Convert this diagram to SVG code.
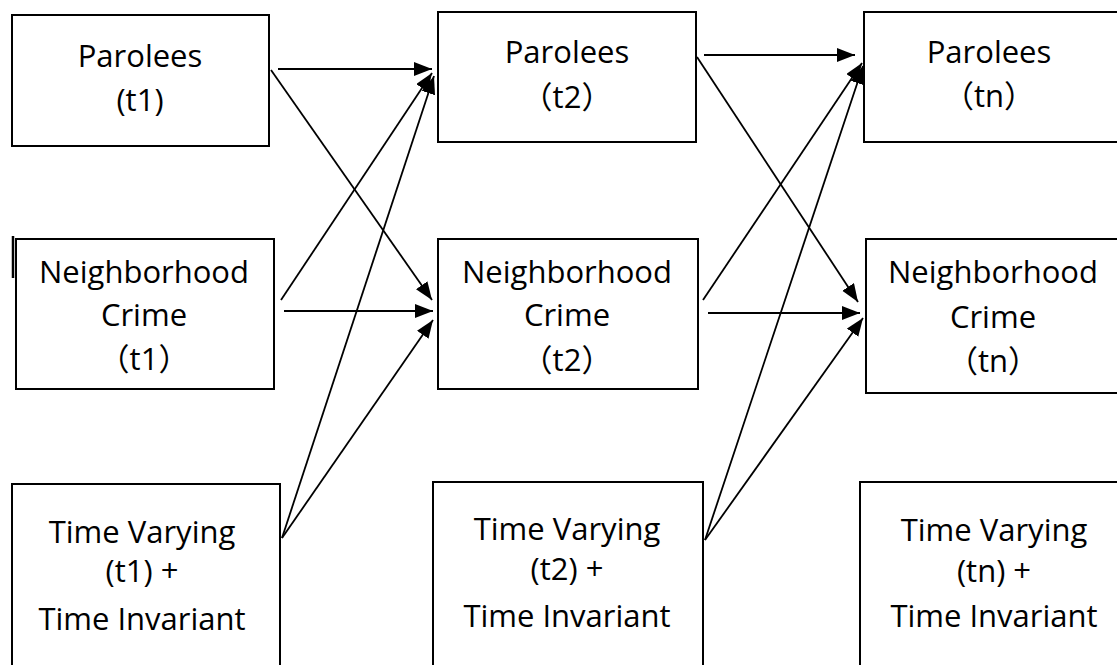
<svg xmlns="http://www.w3.org/2000/svg" width="1117" height="665" viewBox="0 0 1117 665">
<defs>
<marker id="ah" markerUnits="userSpaceOnUse" markerWidth="19" markerHeight="15" refX="18" refY="7" orient="auto">
<path d="M0,0 L18,7 L0,14 z" fill="#000"/>
</marker>
<style>
.box{fill:#fff;stroke:#000;stroke-width:2}
.t{font-family:"Open Sans","Noto Sans","Noto Sans CJK SC",sans-serif;font-size:31px;fill:#000;text-anchor:middle}
.c{stroke:#000;stroke-width:1.8;fill:none;marker-end:url(#ah)}
</style>
</defs>
<rect width="1117" height="665" fill="#fff"/>
<g id="p1"><rect class="box" x="12" y="15" width="257" height="131"/><text class="t" x="140" y="67">Parolees</text><text class="t" x="140" y="111">(t1)</text></g>
<g id="p2"><rect class="box" x="438" y="12" width="258" height="130"/><text class="t" x="567" y="63">Parolees</text><text class="t" x="567" y="108">（t2）</text></g>
<g id="pn"><rect class="box" x="864" y="12" width="270" height="130"/><text class="t" x="989" y="63">Parolees</text><text class="t" x="989" y="107">（tn）</text></g>
<g id="n1"><rect class="box" x="16" y="239" width="258" height="150"/><text class="t" x="144" y="283">Neighborhood</text><text class="t" x="144" y="326">Crime</text><text class="t" x="144" y="370">（t1）</text></g>
<g id="n2"><rect class="box" x="438" y="239" width="260" height="150"/><text class="t" x="567" y="283">Neighborhood</text><text class="t" x="567" y="326">Crime</text><text class="t" x="567" y="371">（t2）</text></g>
<g id="nn"><rect class="box" x="866" y="239" width="270" height="154"/><text class="t" x="993" y="283">Neighborhood</text><text class="t" x="993" y="328">Crime</text><text class="t" x="993" y="372">（tn）</text></g>
<g id="v1"><rect class="box" x="12" y="484" width="268" height="200"/><text class="t" x="142" y="543">Time Varying</text><text class="t" x="142" y="582">(t1) +</text><text class="t" x="142" y="630">Time Invariant</text></g>
<g id="v2"><rect class="box" x="433" y="482" width="270" height="200"/><text class="t" x="567" y="540">Time Varying</text><text class="t" x="567" y="580">(t2) +</text><text class="t" x="567" y="627">Time Invariant</text></g>
<g id="vn"><rect class="box" x="860" y="482" width="270" height="200"/><text class="t" x="994" y="541">Time Varying</text><text class="t" x="994" y="582">(tn) +</text><text class="t" x="994" y="627">Time Invariant</text></g>
<line x1="13" y1="236" x2="13" y2="278" stroke="#000" stroke-width="2.5"/>
<g id="connectors">
<line class="c" x1="278" y1="69" x2="432" y2="69"/>
<line class="c" x1="271" y1="70" x2="432" y2="300"/>
<line class="c" x1="281" y1="300" x2="432" y2="73"/>
<line class="c" x1="284" y1="311" x2="433" y2="311"/>
<line class="c" x1="282" y1="538" x2="434" y2="76"/>
<line class="c" x1="282" y1="538" x2="433" y2="320"/>
<line class="c" x1="704" y1="55" x2="855" y2="55"/>
<line class="c" x1="697" y1="57" x2="858" y2="302"/>
<line class="c" x1="703" y1="300" x2="862" y2="63"/>
<line class="c" x1="708" y1="313" x2="860" y2="313"/>
<line class="c" x1="705" y1="540" x2="863" y2="66"/>
<line class="c" x1="705" y1="540" x2="863" y2="318"/>
</g>
</svg>
